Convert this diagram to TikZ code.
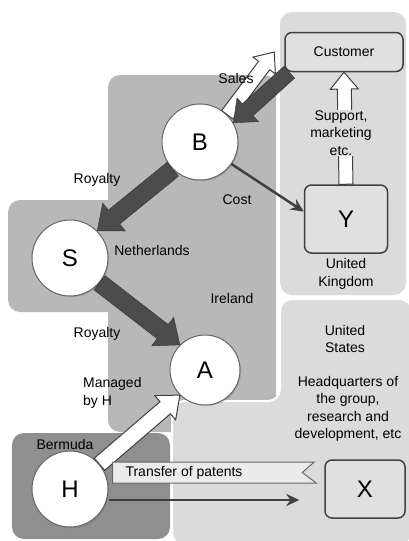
\documentclass[tikz,border=0pt]{standalone}
\usepackage{fontspec}
\setmainfont{Liberation Sans}
\usetikzlibrary{arrows.meta,calc,shadows}
\newcommand{\fatarrow}[4][]{%
  \draw[#1] let \p1=($(#3)-(#2)$), \n1={atan2(\y1,\x1)}, \n2={veclen(\x1,\y1)-2.4*#4} in
    ($(#2)+(\n1+90:#4pt)$) -- ($(#2)+(\n1:\n2)+(\n1+90:#4pt)$)
    -- ($(#2)+(\n1:\n2)+(\n1+90:2*#4pt)$) -- (#3)
    -- ($(#2)+(\n1:\n2)+(\n1-90:2*#4pt)$) -- ($(#2)+(\n1:\n2)+(\n1-90:#4pt)$)
    -- ($(#2)+(\n1-90:#4pt)$) -- cycle;
}

\begin{document}
\begin{tikzpicture}[x=1pt, y=-1pt,
    region/.style={rounded corners=12pt},
    ball/.style={circle, fill=white, draw=black!60, line width=1pt, minimum size=76pt, inner sep=0pt,
      font=\fontsize{24}{28}\selectfont,
      circular drop shadow={shadow xshift=1.5pt, shadow yshift=-1.5pt, shadow scale=1, fill=black!70, opacity=.6}},
    firm/.style={draw=black!75, line width=1.5pt, rounded corners=7pt, fill=black!12,
      font=\fontsize{24}{28}\selectfont},
    lbl/.style={font=\fontsize{14}{17.5}\selectfont, align=center, inner sep=1pt},
    darkflow/.style={fill=black!70, draw=black!80},
    whiteflow/.style={fill=white, draw=black!75, line width=1pt},
    thinflow/.style={draw=black!75, line width=2.5pt, -{Stealth[length=13pt, width=12pt]}}
]
\useasboundingbox (0,0) rectangle (408,541);

% Countries
\fill[region, black!28] (8,200) rectangle (170,312);
\fill[region, black!28] (108,75) rectangle (276,432);
\fill[region, black!14] (280,12) rectangle (406,295);
\filldraw[region, fill=black!14, draw=white, line width=2pt] (280,299) -- (412,299) -- (412,545) -- (172,545) -- (172,401) -- (280,401) -- cycle;
\fill[region, black!44] (12,433) rectangle (170,539);

\node[lbl] (nl) at (152,250) {Netherlands};
\node[lbl] (ie) at (232,298) {Ireland};
\node[lbl] (uk) at (346,274) {United\\Kingdom};
\node[lbl] (us) at (345,339) {United\\States};
\node[lbl] (hq) at (348,409) {Headquarters of\\the group,\\research and\\development, etc};
\node[lbl] (bm) at (65,444) {Bermuda};

% Companies
\node[ball] (B) at (200,142) {B};
\node[ball] (S) at (70,258) {S};
\node[ball, minimum size=70pt] (A) at (205,370) {A};
\node[ball] (H) at (70,489) {H};
\node[firm, minimum width=118pt, minimum height=39pt, font=\fontsize{14}{17}\selectfont] (Customer) at (344,52) {Customer};
\node[firm, minimum width=83pt, minimum height=68pt] (Y) at (346,219) {Y};
\node[firm, minimum width=80pt, minimum height=58pt] (X) at (365,489) {X};

% Flows
\fatarrow[darkflow]{B.225}{S.45}{9}
\fatarrow[darkflow]{S.-40}{A.135}{9}
\coordinate (salestip) at ($(Customer.west)+(-10,0)$);
\fatarrow[whiteflow]{B.45}{salestip}{7}
\coordinate (paysrc) at ($(Customer.south west)+(5,0)$);
\fatarrow[darkflow]{paysrc}{B.30}{8}
\draw[thinflow] (B.-35) -- (Y.170);
\fatarrow[whiteflow]{Y.north}{Customer.south}{7}
\node[lbl, fill=black!14] (support) at (341,133) {Support,\\marketing\\etc.};
\fatarrow[whiteflow]{H.40}{A.225}{8}

% Patents banner and payment
\filldraw[fill=black!8, draw=black!60, line width=1pt] ($(H.east)+(4,-27)$) -- ($(X.west)+(-10,-27)$)
  -- ($(X.west)+(-22,-16.5)$) -- ($(X.west)+(-8,-6)$) -- ($(H.east)+(4,-6)$) -- cycle;
\node[lbl] (patents) at ($(H.east)!0.35!(X.west)+(0,-16.5)$) {Transfer of patents};
\draw[thinflow, shorten >=25pt] ($(H.east)+(0,11)$) -- ($(X.west)+(0,11)$);

% Flow labels
\node[lbl] (sales) at (236,78) {Sales};
\node[lbl] (roy1) at (97,180) {Royalty};
\node[lbl] (roy2) at (97,334) {Royalty};
\node[lbl] (cost) at (237,200) {Cost};
\node[lbl, anchor=west, align=left] (managed) at (82,393) {Managed\\by H};

\end{tikzpicture}
\end{document}
